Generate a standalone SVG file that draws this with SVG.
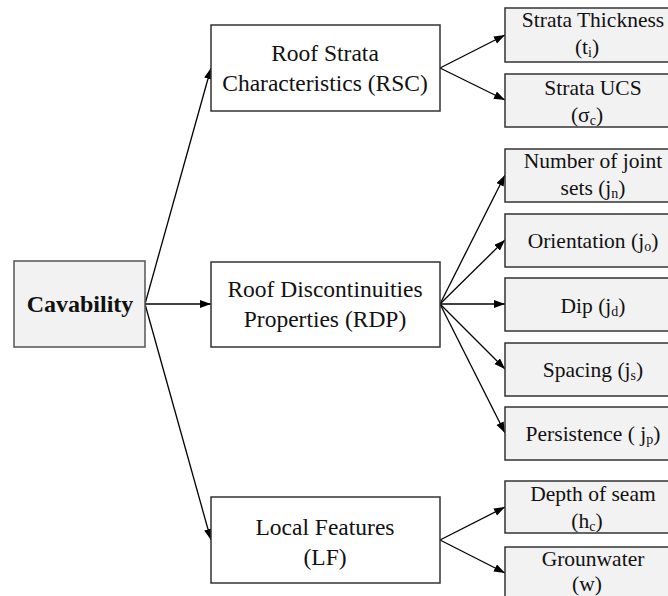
<svg xmlns="http://www.w3.org/2000/svg" width="668" height="596" viewBox="0 0 668 596">
<defs>
<style>
.t{fill:#111;text-anchor:middle}
.m{font-size:23.5px}
.r{font-size:21.5px}
.b{font-size:24px;font-weight:bold}
.root{fill:#f2f2f2;stroke:#555;stroke-width:1.5}
.mid{fill:#fff;stroke:#333;stroke-width:1.5}
.leaf{fill:#f2f2f2;stroke:#333;stroke-width:1.5}
.c line{stroke:#000;stroke-width:1.3;marker-end:url(#ah)}
</style>
<marker id="ah" markerUnits="userSpaceOnUse" markerWidth="12" markerHeight="10" refX="11" refY="4" orient="auto">
<path d="M0,0 L11,4 L0,8 z" fill="#000"/>
</marker>
</defs>
<rect width="668" height="596" fill="#fff"/>
<g class="c" id="connectors">
<line x1="145" y1="304" x2="211" y2="68"/>
<line x1="145" y1="304" x2="211" y2="304"/>
<line x1="145" y1="304" x2="211" y2="540"/>
<line x1="440" y1="68" x2="505" y2="35"/>
<line x1="440" y1="68" x2="505" y2="100"/>
<line x1="440" y1="304" x2="505" y2="175"/>
<line x1="440" y1="304" x2="505" y2="240"/>
<line x1="440" y1="304" x2="505" y2="304"/>
<line x1="440" y1="304" x2="505" y2="369"/>
<line x1="440" y1="304" x2="505" y2="433"/>
<line x1="440" y1="540" x2="505" y2="507"/>
<line x1="440" y1="540" x2="505" y2="573"/>
</g>
<g font-family="'Liberation Serif', 'DejaVu Serif', serif">
<g id="cavability"><rect class="root" x="14" y="261" width="131" height="86"/><text class="t b" x="80" y="312">Cavability</text></g>
<g id="rsc"><rect class="mid" x="211" y="25" width="229" height="86"/><text class="t m" x="325" y="61">Roof Strata</text><text class="t m" x="325" y="91">Characteristics (RSC)</text></g>
<g id="rdp"><rect class="mid" x="211" y="262" width="229" height="85"/><text class="t m" x="325" y="297">Roof Discontinuities</text><text class="t m" x="325" y="327">Properties (RDP)</text></g>
<g id="lf"><rect class="mid" x="211" y="497" width="229" height="86"/><text class="t m" x="325" y="535">Local Features</text><text class="t m" x="325" y="565">(LF)</text></g>
<g id="thickness"><rect class="leaf" x="505" y="8" width="170" height="54"/><text class="t r" x="593" y="27">Strata Thickness</text><text class="t r" x="587" y="54">(t<tspan font-size="14" dy="3">i</tspan><tspan dy="-3">)</tspan></text></g>
<g id="ucs"><rect class="leaf" x="505" y="74" width="170" height="53"/><text class="t r" x="593" y="94.5">Strata UCS</text><text class="t r" x="587" y="121.5">(σ<tspan font-size="14" dy="3">c</tspan><tspan dy="-3">)</tspan></text></g>
<g id="joints"><rect class="leaf" x="505" y="149" width="170" height="53"/><text class="t r" x="593" y="168">Number of joint</text><text class="t r" x="593" y="195">sets (j<tspan font-size="14" dy="3">n</tspan><tspan dy="-3">)</tspan></text></g>
<g id="orientation"><rect class="leaf" x="505" y="214" width="170" height="53"/><text class="t r" x="593" y="248">Orientation (j<tspan font-size="14" dy="3">o</tspan><tspan dy="-3">)</tspan></text></g>
<g id="dip"><rect class="leaf" x="505" y="278" width="170" height="53"/><text class="t r" x="593" y="312.5">Dip (j<tspan font-size="14" dy="3">d</tspan><tspan dy="-3">)</tspan></text></g>
<g id="spacing"><rect class="leaf" x="505" y="343" width="170" height="53"/><text class="t r" x="593" y="377">Spacing (j<tspan font-size="14" dy="3">s</tspan><tspan dy="-3">)</tspan></text></g>
<g id="persistence"><rect class="leaf" x="505" y="407" width="170" height="53"/><text class="t r" x="593" y="441">Persistence ( j<tspan font-size="14" dy="3">p</tspan><tspan dy="-3">)</tspan></text></g>
<g id="depth"><rect class="leaf" x="505" y="481" width="170" height="52"/><text class="t r" x="593" y="500.5">Depth of seam</text><text class="t r" x="587" y="528">(h<tspan font-size="14" dy="3">c</tspan><tspan dy="-3">)</tspan></text></g>
<g id="groundwater"><rect class="leaf" x="505" y="547" width="170" height="60"/><text class="t r" x="593" y="566">Grounwater</text><text class="t r" x="587" y="591">(w)</text></g>
</g>
</svg>
